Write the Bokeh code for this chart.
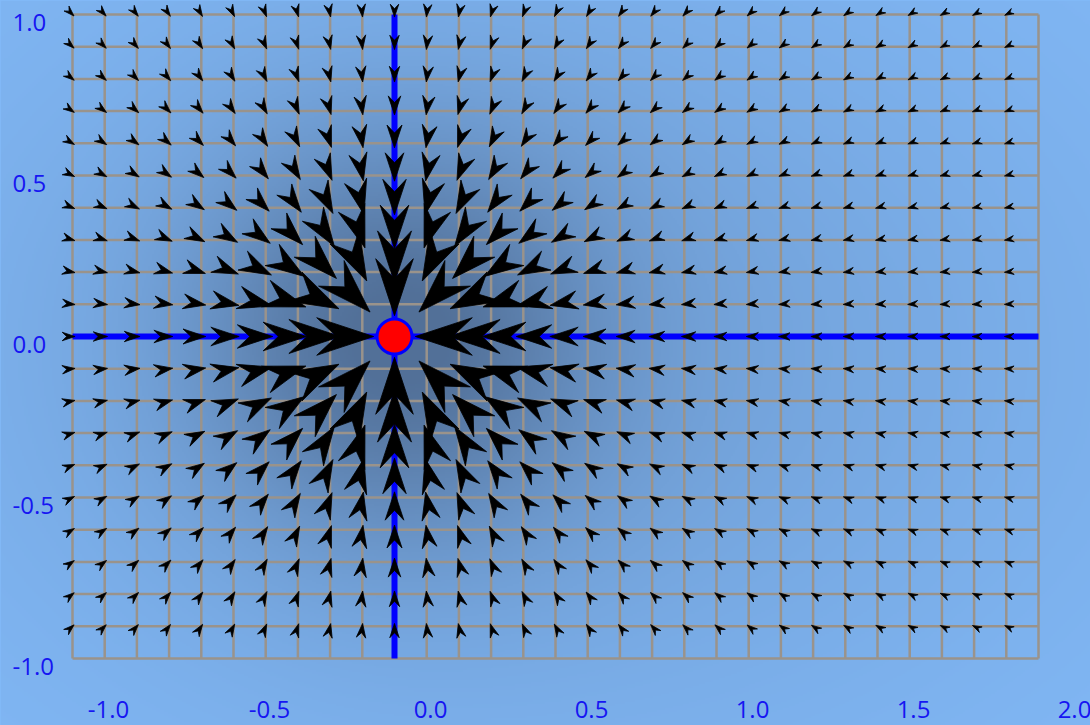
import numpy as np
from bokeh.plotting import figure
from bokeh.models import Range1d, GlobalInlineStyleSheet
from bokeh.core.properties import value
from bokeh.embed import file_html
from bokeh.resources import INLINE

# ---------------- data ----------------
grid_x = [round(-1.0 + 0.1 * k, 1) for k in range(31)]   # vertical grid lines
grid_y = [round(-1.0 + 0.1 * k, 1) for k in range(21)]   # horizontal grid lines
arrow_x = grid_x[:-1]          # arrows at x = -1.0 .. 1.9
arrow_y = grid_y[1:]           # arrows at y = -0.9 .. 1.0
source_x = [0.0]
source_y = [0.0]
# field magnitude (arrow length, data units) vs distance from the source
profile_r = [0.0, 0.1, 0.2, 0.3, 0.4, 0.5, 0.6, 0.7, 0.8, 1.0, 1.2, 1.5, 2.0, 2.3]
profile_mag = [0.180, 0.177, 0.160, 0.135, 0.110, 0.088, 0.071, 0.059, 0.049, 0.040,
               0.035, 0.032, 0.029, 0.027]
x_ticks = [-1.0, -0.5, 0.0, 0.5, 1.0, 1.5, 2.0]
y_ticks = [-1.0, -0.5, 0.0, 0.5, 1.0]
x_tick_labels = ["%.1f" % v for v in x_ticks]
y_tick_labels = ["%.1f" % v for v in y_ticks]

# ---------------- layout ----------------
PW, PH = 1090, 725
PPU = 322.0
xs = -1.0 - 72 / PPU
xe = xs + PW / PPU
ye = 1.0 + 14 / PPU
ys = ye - PH / PPU

OUTER = (131, 187, 250)
INNER = (82, 112, 152)

p = figure(width=PW, height=PH, x_range=Range1d(xs, xe), y_range=Range1d(ys, ye),
           x_axis_type=None, y_axis_type=None, min_border=0,
           toolbar_location=None, output_backend="svg")
p.outline_line_color = None
p.background_fill_color = "rgb(%d,%d,%d)" % OUTER
p.border_fill_color = "rgb(%d,%d,%d)" % OUTER
p.stylesheets = [GlobalInlineStyleSheet(css="body { background: rgb(%d,%d,%d); }" % OUTER)]

# background radial shading
W, H = 545, 363
pxs = (np.arange(W) + 0.5) * PW / W
pys = (np.arange(H) + 0.5) * PH / H
X, Y = np.meshgrid(pxs, pys)
cxp = (source_x[0] - xs) * PPU
cyp = (ye - source_y[0]) * PPU
w1 = np.exp(-((X - cxp) ** 2 + (Y - cyp) ** 2) / 195.0 ** 2)
w2 = np.exp(-((X - 530) / 620.0) ** 2 - ((Y - 355) / 430.0) ** 2)
m = np.clip(0.72 * w1 + 0.33 * w2, 0, 1)
outer = np.array(OUTER, dtype=float)
inner = np.array(INNER, dtype=float)
rgb = outer + (inner - outer) * m[..., None]
img = np.empty((H, W), dtype=np.uint32)
view = img.view(dtype=np.uint8).reshape((H, W, 4))
view[..., :3] = np.clip(rgb, 0, 255).astype(np.uint8)
view[..., 3] = 255
img = np.ascontiguousarray(img[::-1])
p.image_rgba(image=[img], x=xs, y=ys, dw=xe - xs, dh=ye - ys)

# grid
x0 = list(grid_x) + [grid_x[0]] * len(grid_y)
x1 = list(grid_x) + [grid_x[-1]] * len(grid_y)
y0 = [grid_y[0]] * len(grid_x) + list(grid_y)
y1 = [grid_y[-1]] * len(grid_x) + list(grid_y)
p.segment(x0=x0, y0=y0, x1=x1, y1=y1, line_color="#9a938b", line_width=2.5)

# blue axes lines through the source
p.segment(x0=[source_x[0], grid_x[0]], y0=[grid_y[0], source_y[0]],
          x1=[source_x[0], grid_x[-1]], y1=[grid_y[-1], source_y[0]],
          line_color="#0000ff", line_width=6)

# arrows (darts pointing to the source)
pxl, pyl = [], []
for ax in arrow_x:
    for ay in arrow_y:
        dx = source_x[0] - ax
        dy = source_y[0] - ay
        r = np.hypot(dx, dy)
        if r < 1e-9:
            continue
        ux, uy = dx / r, dy / r
        nx, ny = -uy, ux
        L = float(np.interp(r, profile_r, profile_mag))
        tip = (ax + 0.2 * L * ux, ay + 0.2 * L * uy)
        bx, by = ax - 0.8 * L * ux, ay - 0.8 * L * uy
        b1 = (bx + 0.33 * L * nx, by + 0.33 * L * ny)
        b2 = (bx - 0.33 * L * nx, by - 0.33 * L * ny)
        nt = (ax - 0.45 * L * ux, ay - 0.45 * L * uy)
        pxl.append([tip[0], b1[0], nt[0], b2[0]])
        pyl.append([tip[1], b1[1], nt[1], b2[1]])
p.patches(xs=pxl, ys=pyl, fill_color="black", line_color="black", line_width=0.8)

# source point
p.scatter(x=source_x, y=source_y, size=35, fill_color="#ff0000", line_color="#0000ff", line_width=3)

# tick labels
lab_font = value("Open Sans")
p.text(x=[xs + 12 / PPU] * len(y_ticks), y=[v - 8 / PPU for v in y_ticks], text=y_tick_labels,
       text_font=lab_font, text_font_size=value("24px"), text_color="#1616f2",
       text_align="left", text_baseline="middle")
p.text(x=[v + 36 / PPU for v in x_ticks], y=[ye - 709 / PPU] * len(x_ticks), text=x_tick_labels,
       text_font=lab_font, text_font_size=value("24px"), text_color="#1616f2",
       text_align="center", text_baseline="middle")

open("out.html", "w").write(file_html(p, INLINE))
